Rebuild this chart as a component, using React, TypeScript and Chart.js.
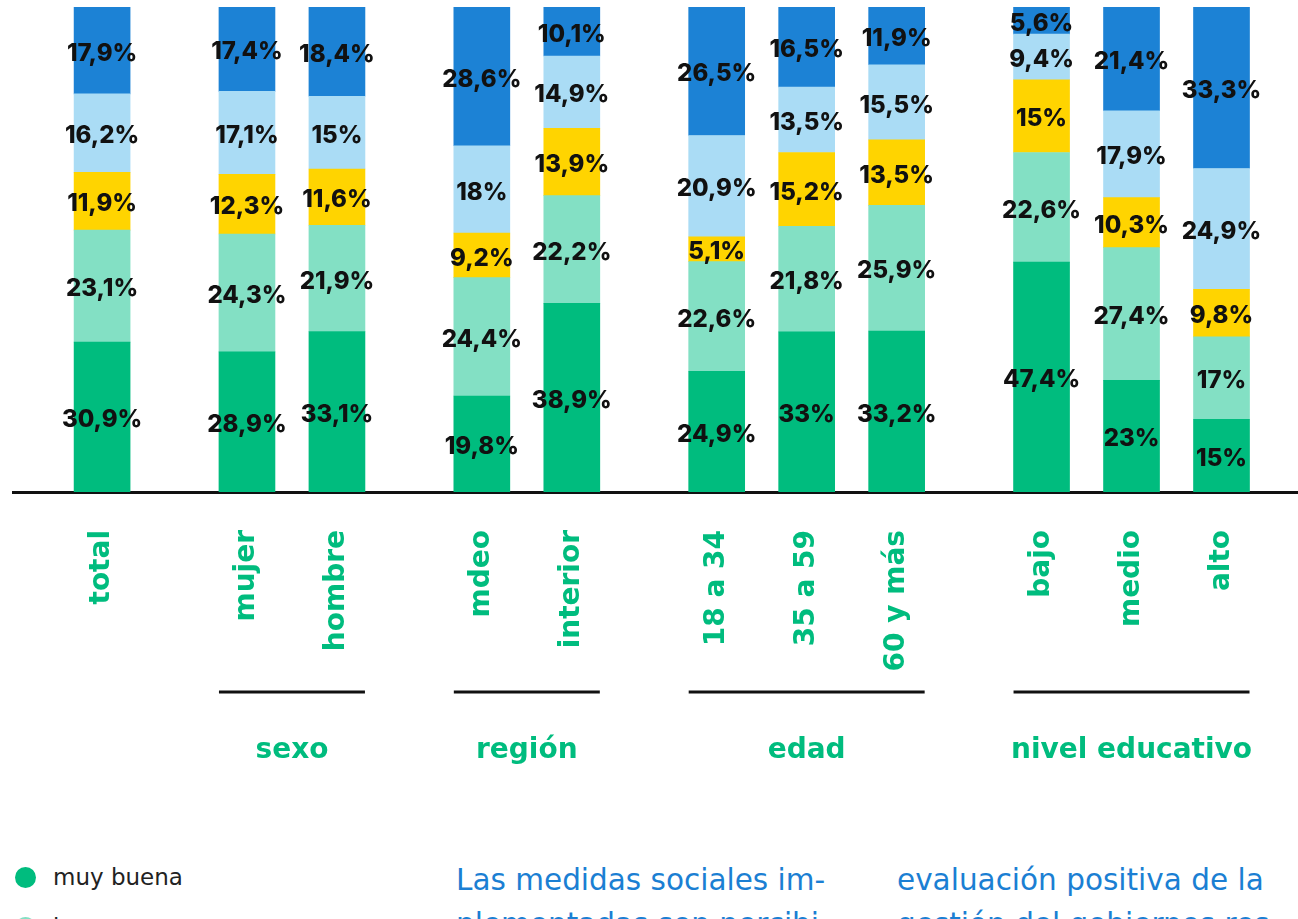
import React, { useEffect, useRef } from 'react';
import { Chart, registerables } from 'chart.js';

Chart.register(...registerables);

// ---------- data ----------
const categories = ['total', 'mujer', 'hombre', 'mdeo', 'interior', '18 a 34', '35 a 59', '60 y más', 'bajo', 'medio', 'alto'];
const categoryGroup = ['', 'sexo', 'sexo', 'región', 'región', 'edad', 'edad', 'edad', 'nivel educativo', 'nivel educativo', 'nivel educativo'];
const seriesNames = ['muy buena', 'buena', 'ni buena ni mala', 'mala', 'muy mala'];
const muyBuena = [30.9, 28.9, 33.1, 19.8, 38.9, 24.9, 33, 33.2, 47.4, 23, 15];
const buena = [23.1, 24.3, 21.9, 24.4, 22.2, 22.6, 21.8, 25.9, 22.6, 27.4, 17];
const niBuenaNiMala = [11.9, 12.3, 11.6, 9.2, 13.9, 5.1, 15.2, 13.5, 15, 10.3, 9.8];
const mala = [16.2, 17.1, 15, 18, 14.9, 20.9, 13.5, 15.5, 9.4, 17.9, 24.9];
const muyMala = [17.9, 17.4, 18.4, 28.6, 10.1, 26.5, 16.5, 11.9, 5.6, 21.4, 33.3];
const seriesValues = [muyBuena, buena, niBuenaNiMala, mala, muyMala];
const seriesColors = ['#00BC7E', '#83E0C4', '#FFD400', '#AADCF5', '#1C82D5'];

// ---------- style ----------
const GREEN = '#00BC7E';
const LABEL_FONT = '"DejaVu Sans", sans-serif';
const VALUE_FONT = 'Inter, sans-serif';
const GROUP_GAP = 0.61; // extra space (in category units) between groups

// position of each category on the linear x scale (index + gap per group change)
const positions: number[] = (() => {
  const out: number[] = [];
  let g = 0;
  categories.forEach((_, i) => {
    if (i > 0 && categoryGroup[i] !== categoryGroup[i - 1]) g += 1;
    out.push(i + g * GROUP_GAP);
  });
  return out;
})();

const fmt = (v: number) => String(v).replace('.', ',') + '%';

const overlayPlugin = {
  id: 'overlay',
  afterDatasetsDraw(chart: any) {
    const ctx = chart.ctx as CanvasRenderingContext2D;
    ctx.save();
    ctx.fillStyle = '#111';
    ctx.font = `800 24px ${VALUE_FONT}`;
    ctx.textAlign = 'center';
    ctx.textBaseline = 'middle';
    chart.data.datasets.forEach((ds: any, di: number) => {
      const meta = chart.getDatasetMeta(di);
      meta.data.forEach((el: any, i: number) => {
        const p = el.getProps(['x', 'y', 'base'], true);
        ctx.fillText(fmt(ds.data[i].y), p.x, (p.y + p.base) / 2 + 3);
      });
    });

    // group annotations
    const meta0 = chart.getDatasetMeta(0);
    const bottom = chart.chartArea.bottom;
    const groups = Array.from(new Set(categoryGroup.filter((g) => g)));
    groups.forEach((g) => {
      const idx = categoryGroup.map((c, i) => (c === g ? i : -1)).filter((i) => i >= 0);
      const first = meta0.data[idx[0]].getProps(['x', 'width'], true);
      const last = meta0.data[idx[idx.length - 1]].getProps(['x', 'width'], true);
      const left = first.x - first.width / 2;
      const right = last.x + last.width / 2;
      ctx.strokeStyle = '#111';
      ctx.lineWidth = 3;
      ctx.beginPath();
      ctx.moveTo(left, bottom + 200);
      ctx.lineTo(right, bottom + 200);
      ctx.stroke();
      ctx.fillStyle = GREEN;
      ctx.font = `700 28px ${LABEL_FONT}`;
      ctx.fillText(g, (left + right) / 2, bottom + 259);
    });
    ctx.restore();
  },
};

export default function App() {
  const canvasRef = useRef<HTMLCanvasElement | null>(null);

  useEffect(() => {
    if (!canvasRef.current) return;
    const chart = new Chart(canvasRef.current, {
      type: 'bar',
      data: {
        datasets: seriesNames.map((name, si) => ({
          label: name,
          data: seriesValues[si].map((v, i) => ({ x: positions[i], y: v })),
          backgroundColor: seriesColors[si],
          borderWidth: 0,
          barThickness: 56,
        })),
      },
      options: {
        animation: false,
        responsive: true,
        maintainAspectRatio: false,
        layout: { padding: { top: 7, left: 13, right: 0, bottom: 0 } },
        plugins: { legend: { display: false }, tooltip: { enabled: false } },
        scales: {
          x: {
            type: 'linear',
            stacked: true,
            offset: false,
            min: -0.99,
            max: 13.29,
            grid: { display: false, drawTicks: false, offset: false },
            border: { display: true, color: '#111', width: 3 },
            afterBuildTicks: (scale: any) => {
              scale.ticks = positions.map((v) => ({ value: v }));
            },
            afterFit: (scale: any) => {
              scale.height = 328;
            },
            ticks: {
              autoSkip: false,
              minRotation: 90,
              maxRotation: 90,
              padding: 38,
              color: GREEN,
              font: { family: LABEL_FONT, weight: 'bold', size: 28 },
              callback: (_v: any, i: number) => categories[i],
            },
          },
          y: {
            stacked: true,
            display: false,
            min: 0,
            max: 100,
          },
        },
      },
      plugins: [overlayPlugin],
    } as any);
    return () => chart.destroy();
  }, []);

  const noteStyle: React.CSSProperties = {
    position: 'absolute',
    top: 858,
    width: 420,
    fontFamily: 'DejaVu Sans, sans-serif',
    fontSize: 29.5,
    lineHeight: '44px',
    color: '#1B7FD3',
    whiteSpace: 'nowrap',
  };

  return (
    <div style={{ position: 'fixed', left: 0, top: 0, width: 1298, height: 919, overflow: 'hidden', background: '#fff' }}>
      <div style={{ position: 'absolute', left: 0, top: 0, width: 1298, height: 820 }}>
        <canvas ref={canvasRef} />
      </div>
      <div style={{ position: 'absolute', left: 15, top: 852, fontFamily: 'DejaVu Sans, sans-serif', fontSize: 23, color: '#222' }}>
        {seriesNames.map((name, i) => (
          <div key={name} style={{ display: 'flex', alignItems: 'center', height: 50 }}>
            <span style={{ display: 'inline-block', width: 21, height: 21, borderRadius: '50%', background: seriesColors[i], marginRight: 17 }} />
            <span>{name}</span>
          </div>
        ))}
      </div>
      <div style={{ ...noteStyle, left: 456 }}>
        Las medidas sociales im-
        <br />
        plementadas son percibi-
        <br />
        das
      </div>
      <div style={{ ...noteStyle, left: 897 }}>
        evaluación positiva de la
        <br />
        gestión del gobiernos res-
        <br />
        pecto
      </div>
    </div>
  );
}
